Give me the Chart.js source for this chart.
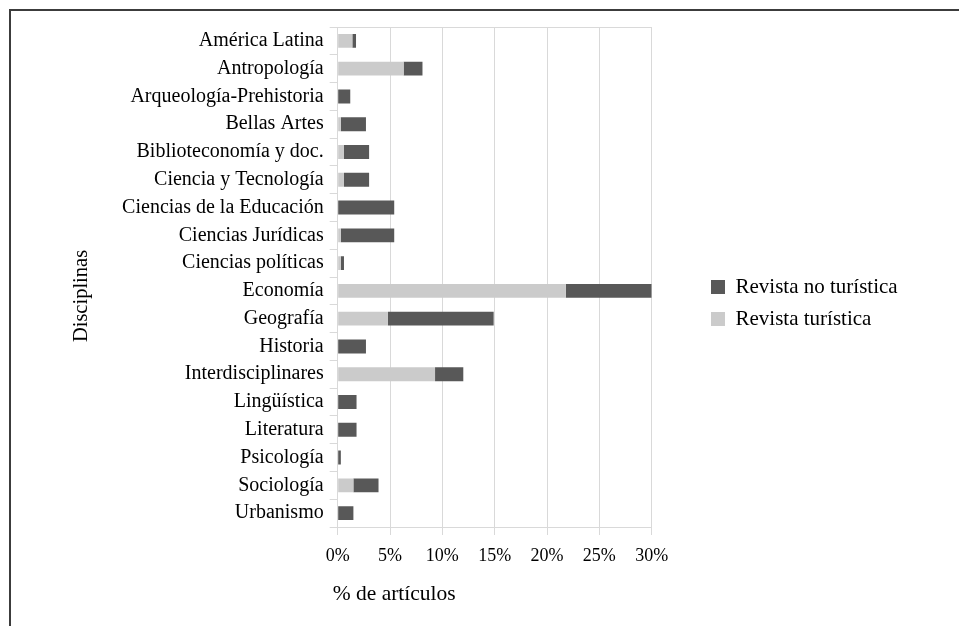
<!DOCTYPE html>
<html><head><meta charset="utf-8">
<script src="https://cdn.jsdelivr.net/npm/chart.js@4"></script>
<style>
html,body{margin:0;padding:0;background:#fff;overflow:hidden;width:959px;height:626px;}
#frame{position:absolute;left:9px;top:9px;width:2000px;height:2000px;border-left:2px solid #3c3c3c;border-top:2px solid #3c3c3c;}
#wrap{position:absolute;left:0;top:0;width:959px;height:626px;}
</style></head><body>
<div id="frame"></div>
<div id="wrap"><canvas id="c" width="959" height="626"></canvas></div>
<script>
const categories = ["América Latina","Antropología","Arqueología-Prehistoria","Bellas Artes","Biblioteconomía y doc.","Ciencia y Tecnología","Ciencias de la Educación","Ciencias Jurídicas","Ciencias políticas","Economía","Geografía","Historia","Interdisciplinares","Lingüística","Literatura","Psicología","Sociología","Urbanismo"];
const revistaTuristica   = [1.4, 6.3, 0, 0.3, 0.6, 0.6, 0, 0.3, 0.3, 21.8, 4.8, 0, 9.3, 0, 0, 0, 1.5, 0];
const revistaNoTuristica = [0.35, 1.8, 1.2, 2.4, 2.4, 2.4, 5.4, 5.1, 0.3, 8.2, 10.1, 2.7, 2.7, 1.8, 1.8, 0.3, 2.4, 1.5];
const seriesNames = ["Revista turística", "Revista no turística"];
const xTickValues = [0, 5, 10, 15, 20, 25, 30];
const xTickLabels = ["0%", "5%", "10%", "15%", "20%", "25%", "30%"];
const xTitle = "% de artículos";
const yTitle = "Disciplinas";

const FONT = "'Liberation Serif', 'Times New Roman', serif";
const GRID = '#d9d9d9';

function patchTitle(scale, dx, dy) {
  if (scale._titlePatched) return;
  const orig = scale.drawTitle;
  scale.drawTitle = function () {
    this.ctx.save();
    this.ctx.translate(dx, dy);
    orig.call(this);
    this.ctx.restore();
  };
  scale._titlePatched = true;
}

const layoutFix = {
  id: 'layoutFix',
  beforeLayout(chart) {
    const lg = chart.legend;
    if (lg && !lg._fitPatched) {
      const f = lg.fit;
      lg.fit = function () { f.call(this); this.width = 959 - 651.7; };
      lg._fitPatched = true;
    }
  },
  afterLayout(chart) {
    const lg = chart.legend;
    if (!lg) return;
    // first legend item centred at y=287, second at y=319
    const H = 200;
    lg.left = 700; lg.right = 959;
    lg.top = 276.5 - (H - 53) / 2; lg.bottom = lg.top + H;
    lg.width = lg.right - lg.left; lg.height = lg.bottom - lg.top;
  }
};

new Chart(document.getElementById('c'), {
  type: 'bar',
  data: {
    labels: categories,
    datasets: [
      { label: seriesNames[0], data: revistaTuristica, backgroundColor: '#cbcbcb', borderWidth: 0 },
      { label: seriesNames[1], data: revistaNoTuristica, backgroundColor: '#585858', borderWidth: 0 }
    ]
  },
  plugins: [layoutFix],
  options: {
    indexAxis: 'y',
    responsive: false,
    animation: false,
    devicePixelRatio: 1,
    layout: { padding: { left: 60, right: 0, top: 27, bottom: 14.4 } },
    datasets: { bar: { categoryPercentage: 1.0, barPercentage: 0.5 } },
    plugins: {
      tooltip: { enabled: false },
      legend: {
        position: 'right',
        fullSize: false,
        reverse: true,
        labels: {
          boxWidth: 14, boxHeight: 14, padding: 11,
          color: '#000',
          font: { family: FONT, size: 21 }
        }
      }
    },
    scales: {
      x: {
        stacked: true,
        min: 0, max: 30,
        afterBuildTicks(s) { s.ticks = xTickValues.map(v => ({ value: v })); },
        ticks: {
          color: '#000',
          font: { family: FONT, size: 18 },
          padding: 10,
          maxRotation: 0,
          callback: (v) => xTickLabels[xTickValues.indexOf(v)]
        },
        grid: { color: GRID, tickLength: 8, lineWidth: 1 },
        border: { color: GRID },
        title: {
          display: true, text: xTitle, align: 'start', color: '#000',
          font: { family: FONT, size: 21.5 }, padding: { top: 4, bottom: 4 }
        },
        afterFit(s) { s.height = 84.6; patchTitle(s, -5, 0); }
      },
      y: {
        stacked: true,
        ticks: { color: '#000', font: { family: FONT, size: 20 }, padding: 6, autoSkip: false },
        grid: {
          offset: true,
          drawOnChartArea: true,
          tickLength: 8,
          color: (ctx) => (ctx.index === 0 ? GRID : 'rgba(0,0,0,0)'),
          tickColor: GRID
        },
        border: { color: GRID },
        title: {
          display: true, text: yTitle, color: '#000',
          font: { family: FONT, size: 20.5 }, padding: { top: 9, bottom: 0 }
        },
        afterFit(s) { s.width = 277.7; patchTitle(s, 0, 19); }
      }
    }
  }
});
</script>
</body></html>
